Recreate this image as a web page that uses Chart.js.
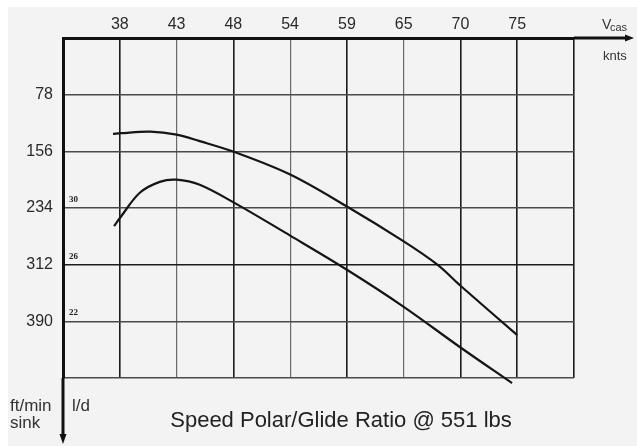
<!DOCTYPE html>
<html>
<head>
<meta charset="utf-8">
<script src="https://cdn.jsdelivr.net/npm/chart.js@4.4.1/dist/chart.umd.min.js"></script>
<style>
  html, body { margin: 0; padding: 0; background: #ffffff; }
  #wrap { width: 637px; height: 448px; }
</style>
</head>
<body>
<div id="wrap"><canvas id="polar" width="637" height="448"></canvas></div>
<script>
// Airspeed axis: evenly spaced every 10 km/h (70..140), labelled in knots
const KMH_PER_KNOT = 1.852;
const speedTickLabels = ['38', '43', '48', '54', '59', '65', '70', '75'];
const speedTickKmh = [70, 80, 90, 100, 110, 120, 130, 140];

// Sink rate axis (ft/min), downward
const sinkTicks = [78, 156, 234, 312, 390];

// Glide ratio marks beside the sink axis
const glideLabels = ['30', '26', '22'];
const glideAtSink = [234, 312, 390];

// Upper polar curve: airspeed (knots) vs sink (ft/min)
const upperSpeed = [37.15, 37.9, 40.7, 43.2, 45.4, 48.7, 54.0, 59.4, 64.8, 68.0, 70.2, 75.6];
const upperSink  = [132,   131,  129,  133,  142,  157,  188,  232,  280,  312,  341,  409];

// Lower polar curve
const lowerSpeed = [37.25, 37.9, 39.7, 41.6, 43.2, 45.4, 48.7, 54.0, 59.4, 64.8, 70.2, 75.1];
const lowerSink  = [259,   246,  213,  198,  195,  202,  227,  272,  319,  370,  426,  475];

const toPoints = (speeds, sinks) => speeds.map((k, i) => ({ x: k * KMH_PER_KNOT, y: sinks[i] }));

const FONT = "'Liberation Sans', Arial, sans-serif";

// Paper background, axis arrows and the free-standing captions
const decor = {
  id: 'decor',
  beforeDraw(chart) {
    const { ctx, width, height } = chart;
    ctx.save();
    ctx.fillStyle = '#ffffff';
    ctx.fillRect(0, 0, width, height);
    ctx.fillStyle = '#f3f3f3';
    ctx.fillRect(8, 7, width - 8, height - 9);
    ctx.restore();
  },
  afterDraw(chart) {
    const { ctx, chartArea: a, width, height } = chart;
    const ys = chart.scales.y;
    ctx.save();
    ctx.strokeStyle = '#111';
    ctx.fillStyle = '#111';
    ctx.lineWidth = 3;

    // speed axis continues to the right with an arrow
    ctx.beginPath();
    ctx.moveTo(a.right, a.top);
    ctx.lineTo(width - 8, a.top);
    ctx.stroke();
    ctx.beginPath();
    ctx.moveTo(width - 3, a.top);
    ctx.lineTo(width - 12, a.top - 3.5);
    ctx.lineTo(width - 12, a.top + 3.5);
    ctx.closePath();
    ctx.fill();

    // sink axis continues downward with an arrow
    ctx.beginPath();
    ctx.moveTo(a.left, a.bottom);
    ctx.lineTo(a.left, height - 10);
    ctx.stroke();
    ctx.beginPath();
    ctx.moveTo(a.left, height - 4);
    ctx.lineTo(a.left - 3.5, height - 14);
    ctx.lineTo(a.left + 3.5, height - 14);
    ctx.closePath();
    ctx.fill();

    // axis captions
    ctx.fillStyle = '#333';
    ctx.textBaseline = 'alphabetic';
    ctx.textAlign = 'left';
    ctx.font = `14px ${FONT}`;
    ctx.fillText('V', a.right + 28, 29);
    ctx.font = `11px ${FONT}`;
    ctx.fillText('cas', a.right + 36, 31);
    ctx.font = `13px ${FONT}`;
    ctx.fillText('knts', a.right + 29, 60);

    ctx.font = `17px ${FONT}`;
    ctx.fillText('ft/min', 10, 411);
    ctx.fillText('sink', 10, 428);
    ctx.fillText('l/d', a.left + 9, 411);

    // glide ratio marks
    ctx.font = "bold 9px 'Liberation Serif', serif";
    ctx.fillStyle = '#222';
    glideLabels.forEach((t, i) => {
      ctx.fillText(t, a.left + 6, ys.getPixelForValue(glideAtSink[i]) - 6);
    });

    // chart title
    ctx.fillStyle = '#222';
    ctx.textAlign = 'center';
    ctx.font = `22px ${FONT}`;
    ctx.fillText('Speed Polar/Glide Ratio @ 551 lbs', 341, 427);
    ctx.restore();
  }
};

const darkSpeedLines = new Set([60, 70, 90, 110, 130, 140, 150]);

const curveStyle = {
  borderColor: '#151515', borderWidth: 2.2, pointRadius: 0,
  tension: 0.35, fill: false, clip: false
};

new Chart(document.getElementById('polar'), {
  type: 'line',
  data: {
    datasets: [
      Object.assign({ data: toPoints(upperSpeed, upperSink) }, curveStyle),
      Object.assign({ data: toPoints(lowerSpeed, lowerSink) }, curveStyle)
    ]
  },
  options: {
    responsive: false,
    animation: false,
    devicePixelRatio: 1,
    layout: { padding: { left: 0, top: 0, right: 63, bottom: 70 } },
    plugins: { legend: { display: false }, tooltip: { enabled: false }, title: { display: false } },
    scales: {
      x: {
        type: 'linear',
        position: 'top',
        min: 60,
        max: 150,
        afterBuildTicks: s => { s.ticks = [60, ...speedTickKmh, 150].map(v => ({ value: v })); },
        afterFit: s => { s.height = 38; },
        grid: {
          drawTicks: false,
          color: c => (darkSpeedLines.has(c.tick && c.tick.value) ? '#1c1c1c' : '#6a6a6a'),
          lineWidth: c => (darkSpeedLines.has(c.tick && c.tick.value) ? 1.6 : 1.2)
        },
        border: { display: true, color: '#111', width: 3 },
        ticks: {
          autoSkip: false, maxRotation: 0, padding: 4,
          color: '#2a2a2a',
          font: { family: FONT, size: 16 },
          callback: v => { const i = speedTickKmh.indexOf(v); return i >= 0 ? speedTickLabels[i] : ''; }
        }
      },
      y: {
        type: 'linear',
        reverse: true,
        min: 0,
        max: 468,
        afterBuildTicks: s => { s.ticks = [0, ...sinkTicks, 468].map(v => ({ value: v })); },
        afterFit: s => { s.width = 63; },
        grid: {
          drawTicks: false,
          color: c => ((c.tick && c.tick.value) === 312 ? '#1c1c1c' : '#4a4a4a'),
          lineWidth: 1.5
        },
        border: { display: true, color: '#111', width: 3 },
        ticks: {
          autoSkip: false, padding: 10,
          color: '#2a2a2a',
          font: { family: FONT, size: 16 },
          callback: v => (sinkTicks.includes(v) ? String(v) : '')
        }
      }
    }
  },
  plugins: [decor]
});
</script>
</body>
</html>
